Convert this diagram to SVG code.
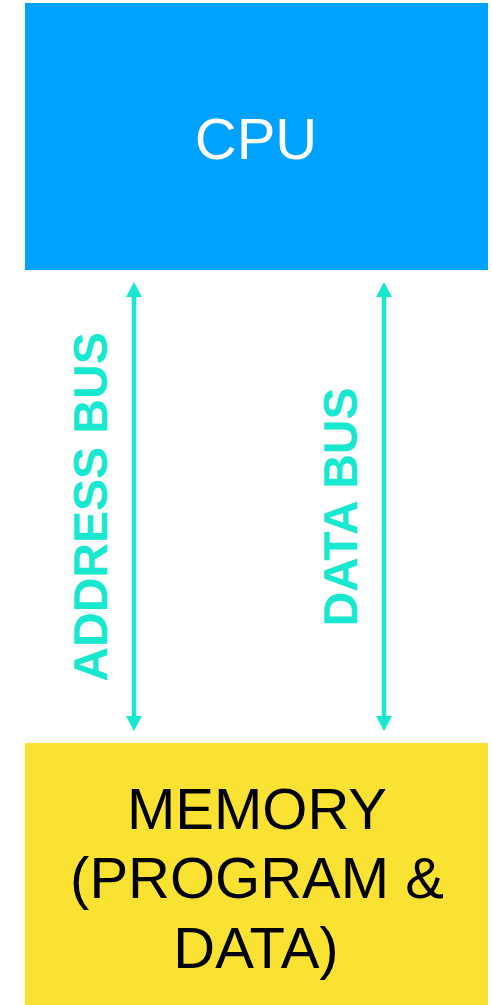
<svg xmlns="http://www.w3.org/2000/svg" width="492" height="1005" viewBox="0 0 492 1005">
  <style>
    .box-label { font-family: "Liberation Sans", Arial, sans-serif; font-size: 58px; text-anchor: middle; }
    .bus { stroke: #17E8CF; stroke-width: 4.5; fill: none; }
    .bus-label { font-family: "Liberation Sans", Arial, sans-serif; font-size: 48px; font-weight: bold; fill: #17E8CF; text-anchor: middle; }
  </style>
  <defs>
    <marker id="head" viewBox="0 -8 15 16" refX="1" refY="0" markerWidth="15" markerHeight="16" markerUnits="userSpaceOnUse" orient="auto-start-reverse">
      <path d="M0,-8 L15,0 L0,8 z" fill="#17E8CF"/>
    </marker>
  </defs>
  <rect width="492" height="1005" fill="#ffffff"/>

  <g id="cpu">
    <rect x="25" y="3" width="463" height="267" fill="#00A2FF"/>
    <text class="box-label" x="256" y="159" fill="#ffffff">CPU</text>
  </g>

  <g id="memory">
    <rect x="25" y="743" width="463" height="262" fill="#F9E231"/>
    <text class="box-label" x="257" y="829" fill="#000000">MEMORY</text>
    <text class="box-label" x="257" y="898" fill="#000000">(PROGRAM &amp;</text>
    <text class="box-label" x="256" y="968" fill="#000000">DATA)</text>
  </g>

  <g id="connectors">
    <line class="bus" x1="134" y1="296" x2="134" y2="717" marker-start="url(#head)" marker-end="url(#head)"/>
    <line class="bus" x1="384" y1="296" x2="384" y2="717" marker-start="url(#head)" marker-end="url(#head)"/>
    <text class="bus-label" transform="translate(107,507) rotate(-90)">ADDRESS BUS</text>
    <text class="bus-label" transform="translate(357,507) rotate(-90)">DATA BUS</text>
  </g>
</svg>
